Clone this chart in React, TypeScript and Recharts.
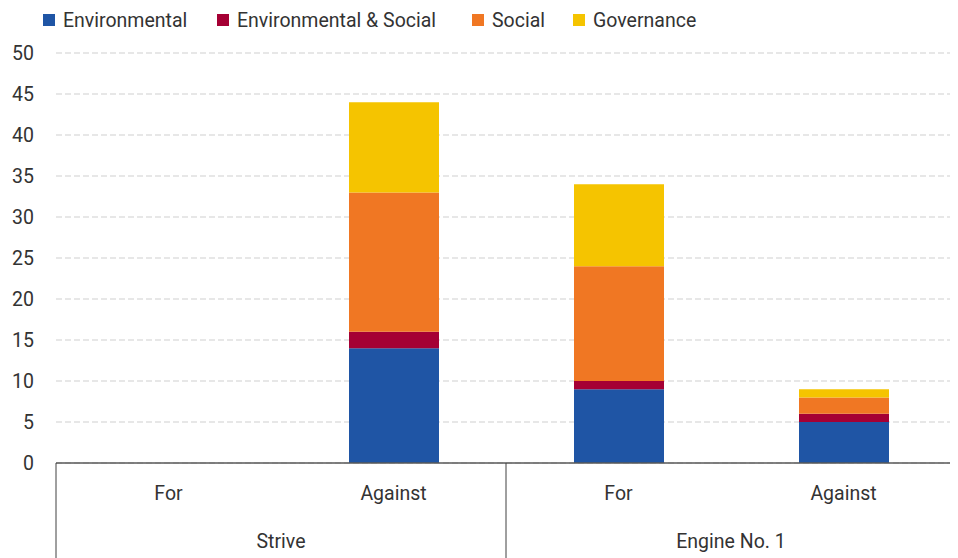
import React from 'react';
import { BarChart, Bar, XAxis, YAxis, CartesianGrid, Legend } from 'recharts';

const categories = ['For', 'Against', 'For', 'Against'];
const groups = ['Strive', 'Strive', 'Engine No. 1', 'Engine No. 1'];
const environmental = [0, 14, 9, 5];
const envSocial = [0, 2, 1, 1];
const social = [0, 17, 14, 2];
const governance = [0, 11, 10, 1];
const yTicks = [0, 5, 10, 15, 20, 25, 30, 35, 40, 45, 50];

const series = [
  { key: 'environmental', name: 'Environmental', color: '#1F55A5' },
  { key: 'envSocial', name: 'Environmental & Social', color: '#A50034' },
  { key: 'social', name: 'Social', color: '#F07723' },
  { key: 'governance', name: 'Governance', color: '#F5C400' },
];

const data = categories.map((c, i) => ({
  cat: c,
  group: groups[i],
  environmental: environmental[i],
  envSocial: envSocial[i],
  social: social[i],
  governance: governance[i],
}));

const FONT = 'Roboto, "Liberation Sans", sans-serif';
const FS = 19.5;
const TEXT = '#333333';
const BOX = '#404040';
const legendX = [35, 209, 464, 565];

const LegendContent = () => (
  <div style={{ position: 'relative', height: 45, width: 950, fontFamily: FONT, fontSize: FS, color: TEXT }}>
    {series.map((s, i) => (
      <div
        key={s.key}
        style={{ position: 'absolute', left: legendX[i], top: 0, height: 24, display: 'flex', alignItems: 'center', whiteSpace: 'nowrap' }}
      >
        <span style={{ width: 12, height: 12, background: s.color, display: 'inline-block', marginRight: 8 }} />
        <span>{s.name}</span>
      </div>
    ))}
  </div>
);

const SubTick = (props: any) => {
  const { x, y, payload } = props;
  const v = typeof payload.value === 'number' ? categories[payload.value] : payload.value;
  return (
    <text x={x} y={y + 37} textAnchor="middle" fontFamily={FONT} fontSize={FS} fill={TEXT}>
      {v}
    </text>
  );
};

const GroupTick = (props: any) => {
  const { x, y, payload, index } = props;
  const half = payload && payload.offset ? payload.offset : (props.width || 900) / groups.length / 2;
  const isFirst = index === 0 || groups[index] !== groups[index - 1];
  const isLast = index === groups.length - 1;
  return (
    <g>
      {isFirst && (
        <line x1={x - half} x2={x - half} y1={y - 50} y2={y + 45} stroke={BOX} strokeWidth={1} />
      )}
      {isLast && (
        <line x1={x + half} x2={x + half} y1={y - 50} y2={y + 45} stroke={BOX} strokeWidth={1} />
      )}
      {isFirst && (
        <text x={x + half} y={y + 35} textAnchor="middle" fontFamily={FONT} fontSize={FS} fill={TEXT}>
          {groups[index]}
        </text>
      )}
    </g>
  );
};

export default function App() {
  return (
    <div style={{ width: 950, height: 550 }}>
      <BarChart width={950} height={550} data={data} margin={{ top: 0, right: 2, left: 0, bottom: 0 }}>
        <Legend verticalAlign="top" align="left" content={<LegendContent />} wrapperStyle={{ top: 0, left: 0 }} />
        <CartesianGrid vertical={false} stroke="#cfcfcf" strokeDasharray="6 3" />
        <XAxis
          dataKey="cat"
          height={50}
          interval={0}
          tickLine={false}
          tickSize={0}
          tickMargin={0}
          axisLine={{ stroke: '#595959', strokeWidth: 1.5 }}
          tick={<SubTick />}
        />
        <XAxis
          xAxisId="group"
          dataKey="group"
          height={45}
          interval={0}
          tickLine={false}
          tickSize={0}
          tickMargin={0}
          axisLine={false}
          tick={<GroupTick />}
        />
        <YAxis
          width={48}
          domain={[0, 50]}
          ticks={yTicks}
          interval={0}
          axisLine={false}
          tickLine={false}
          tickSize={0}
          tickMargin={22}
          tick={{ fontFamily: FONT, fontSize: FS, fill: TEXT }}
        />
        {series.map((s) => (
          <Bar key={s.key} dataKey={s.key} name={s.name} stackId="a" fill={s.color} barSize={90} isAnimationActive={false} />
        ))}
      </BarChart>
    </div>
  );
}
